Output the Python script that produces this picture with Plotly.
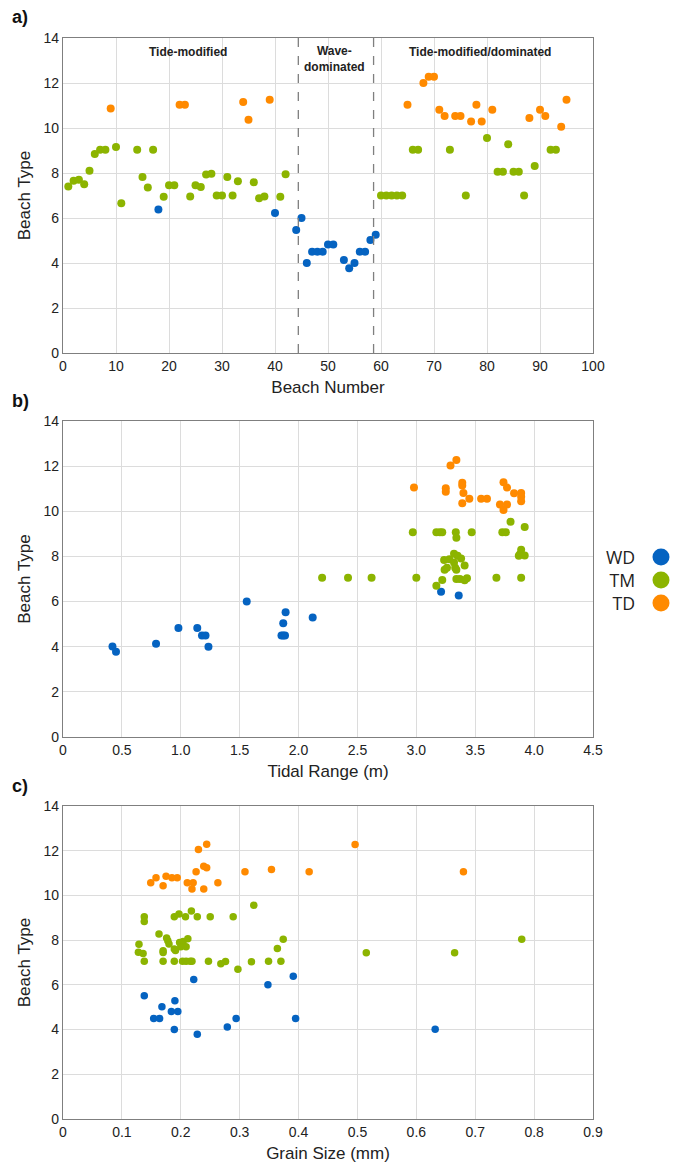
import plotly.graph_objects as go

# ---------------- data ----------------
# Panel a: beach number vs beach type
a_wd_beach = [18, 40, 44, 45, 46, 47, 48, 49, 50, 51, 53, 54, 55, 56, 57, 58, 59]
a_wd_type = [6.38, 6.22, 5.47, 6.0, 4.0, 4.5, 4.5, 4.5, 4.82, 4.82, 4.13, 3.77, 4.0, 4.5, 4.5, 5.02, 5.26]
a_tm_beach = [1, 2, 3, 4, 5, 6, 7, 8, 10, 11, 14, 15, 16, 17, 19, 20, 21, 24, 25, 26, 27, 28, 29, 30,
              31, 32, 33, 36, 37, 38, 41, 42, 60, 61, 62, 63, 64, 66, 67, 73, 76, 80, 82, 83, 84, 85,
              86, 87, 89, 92, 93]
a_tm_type = [7.4, 7.65, 7.7, 7.5, 8.1, 8.84, 9.03, 9.03, 9.16, 6.66, 9.03, 7.82, 7.35, 9.03, 6.94, 7.45,
             7.45, 6.96, 7.46, 7.38, 7.93, 7.97, 7.0, 7.0, 7.82, 7.0, 7.63, 7.59, 6.88, 6.95, 6.94, 7.94,
             7.0, 7.0, 7.0, 7.0, 7.0, 9.03, 9.03, 9.03, 7.0, 9.56, 8.06, 8.06, 9.28, 8.06, 8.06, 7.0,
             8.31, 9.03, 9.03]
a_td_beach = [9, 22, 23, 34, 35, 39, 65, 68, 69, 70, 71, 72, 74, 75, 77, 78, 79, 81, 88, 90, 91, 94, 95]
a_td_type = [10.87, 11.03, 11.03, 11.16, 10.37, 11.26, 11.03, 12.0, 12.28, 12.28, 10.81, 10.53, 10.53,
             10.53, 10.29, 11.03, 10.29, 10.81, 10.44, 10.81, 10.53, 10.06, 11.26]
a_dividers = [44.4, 58.6]

# Panel b: tidal range vs beach type
b_wd_tide = [0.42, 0.45, 0.79, 0.98, 1.14, 1.18, 1.21, 1.235, 1.56, 1.855, 1.87, 1.885, 1.87, 1.89,
             2.12, 3.21, 3.36]
b_wd_type = [4.01, 3.78, 4.13, 4.83, 4.83, 4.5, 4.5, 4.0, 6.0, 4.5, 4.5, 4.5, 5.04, 5.53, 5.29, 6.44, 6.27]
b_tm_tide = [2.20, 2.42, 2.62, 3.0, 2.97, 3.17, 3.20, 3.22, 3.335, 3.34, 3.47, 3.73, 3.76, 3.80, 3.92,
             3.89, 3.88, 3.92, 3.87, 3.32, 3.35, 3.236, 3.28, 3.32, 3.38, 3.41, 3.24, 3.26, 3.33, 3.34,
             3.22, 3.17, 3.34, 3.37, 3.41, 3.43, 3.68, 3.89]
b_tm_type = [7.05, 7.05, 7.05, 7.05, 9.07, 9.07, 9.07, 9.07, 9.07, 8.83, 9.07, 9.07, 9.07, 9.54, 9.3,
             8.3, 8.1, 8.04, 8.03, 8.12, 8.03, 7.84, 7.88, 7.73, 7.91, 7.6, 7.41, 7.5, 7.5, 7.41,
             6.96, 6.7, 7.0, 7.0, 6.95, 7.03, 7.05, 7.05]
b_td_tide = [2.98, 3.25, 3.25, 3.29, 3.34, 3.39, 3.39, 3.40, 3.45, 3.39, 3.55, 3.60, 3.74, 3.77, 3.83,
             3.89, 3.89, 3.89, 3.71, 3.77, 3.74]
b_td_type = [11.05, 10.87, 11.02, 12.03, 12.27, 11.26, 11.14, 10.81, 10.56, 10.36, 10.56, 10.56, 11.29,
             11.05, 10.8, 10.81, 10.64, 10.44, 10.3, 10.3, 10.06]

# Panel c: grain size vs beach type
c_wd_grain = [0.138, 0.154, 0.164, 0.168, 0.184, 0.190, 0.195, 0.189, 0.222, 0.228, 0.279, 0.294,
              0.348, 0.391, 0.395, 0.632]
c_wd_type = [5.51, 4.5, 4.5, 5.02, 4.81, 5.29, 4.81, 4.0, 6.24, 3.79, 4.12, 4.5, 6.0, 6.39, 4.5, 4.01]
c_tm_grain = [0.138, 0.138, 0.129, 0.128, 0.136, 0.138, 0.163, 0.176, 0.178, 0.180, 0.170, 0.170,
              0.170, 0.189, 0.197, 0.208, 0.218, 0.228, 0.250, 0.289, 0.324, 0.189, 0.191, 0.198,
              0.204, 0.200, 0.209, 0.212, 0.189, 0.203, 0.209, 0.216, 0.219, 0.247, 0.268, 0.276,
              0.297, 0.320, 0.349, 0.364, 0.370, 0.374, 0.515, 0.665, 0.779]
c_tm_type = [9.05, 8.83, 7.82, 7.46, 7.40, 7.06, 8.28, 8.10, 7.97, 7.83, 7.52, 7.45, 7.06, 9.05, 9.17,
             9.05, 9.30, 9.05, 9.05, 9.05, 9.56, 7.60, 7.54, 7.89, 7.94, 7.71, 7.71, 8.06, 7.06, 7.06,
             7.06, 7.06, 7.06, 7.06, 6.94, 7.05, 6.70, 7.03, 7.06, 7.63, 7.06, 8.04, 7.44, 7.44, 8.04]
c_td_grain = [0.149, 0.158, 0.170, 0.175, 0.185, 0.194, 0.211, 0.221, 0.219, 0.226, 0.230, 0.244,
              0.239, 0.244, 0.239, 0.263, 0.309, 0.354, 0.418, 0.496, 0.680]
c_td_type = [10.57, 10.79, 10.43, 10.86, 10.79, 10.79, 10.57, 10.57, 10.29, 11.06, 12.05, 12.29,
             11.30, 11.24, 10.29, 10.57, 11.06, 11.16, 11.06, 12.28, 11.06]

class_names = ["WD", "TM", "TD"]
class_colors = ["#0563C1", "#8CB400", "#FF8A00"]

# ---------------- figure ----------------
W, H = 675, 1165
ML, MR, MT, MB = 63, 82, 38, 46
PW, PH = W - ML - MR, H - MT - MB


def py(pix):  # pixel y -> paper y
    return (H - MB - pix) / PH


def px(pix):  # pixel x -> paper x
    return (pix - ML) / PW


fig = go.Figure()

panels = [
    ("x", "y", [(a_wd_beach, a_wd_type), (a_tm_beach, a_tm_type), (a_td_beach, a_td_type)], 8),
    ("x2", "y2", [(b_wd_tide, b_wd_type), (b_tm_tide, b_tm_type), (b_td_tide, b_td_type)], 8),
    ("x3", "y3", [(c_wd_grain, c_wd_type), (c_tm_grain, c_tm_type), (c_td_grain, c_td_type)], 7.5),
]
for xa, ya, series, msize in panels:
    for (xs, ys), name, col in zip(series, class_names, class_colors):
        fig.add_trace(go.Scatter(x=xs, y=ys, mode="markers", name=name, xaxis=xa, yaxis=ya,
                                 showlegend=False,
                                 marker=dict(color=col, size=msize, line=dict(width=0))))

font_family = "Liberation Sans, Arial, sans-serif"
axis_common = dict(showline=True, mirror=True, linecolor="#7F7F7F", linewidth=1.3,
                   showgrid=True, gridcolor="#DCDCDC", gridwidth=1, zeroline=False,
                   ticks="", automargin=False,
                   tickfont=dict(size=14, color="#222", family=font_family),
                   title_font=dict(size=17, color="#222", family=font_family))

yticks = [0, 2, 4, 6, 8, 10, 12, 14]
dom_a = [py(353), py(38)]
dom_b = [py(737), py(421)]
dom_c = [py(1119), py(806)]

fig.update_layout(
    width=W, height=H, margin=dict(l=ML, r=MR, t=MT, b=MB, autoexpand=False),
    plot_bgcolor="white", paper_bgcolor="white",
    font=dict(family=font_family, color="#222"),
    xaxis=dict(axis_common, domain=[0, 1], anchor="y", range=[0, 100], tickvals=list(range(0, 101, 10)),
               title=dict(text="Beach Number", standoff=8)),
    yaxis=dict(axis_common, domain=dom_a, anchor="x", range=[0, 14], tickvals=yticks,
               title=dict(text="Beach Type", standoff=8)),
    xaxis2=dict(axis_common, domain=[0, 1], anchor="y2", range=[0, 4.5],
                tickvals=[0, 0.5, 1, 1.5, 2, 2.5, 3, 3.5, 4, 4.5],
                ticktext=["0", "0.5", "1.0", "1.5", "2.0", "2.5", "3.0", "3.5", "4.0", "4.5"],
                title=dict(text="Tidal Range (m)", standoff=8)),
    yaxis2=dict(axis_common, domain=dom_b, anchor="x2", range=[0, 14], tickvals=yticks,
                title=dict(text="Beach Type", standoff=8)),
    xaxis3=dict(axis_common, domain=[0, 1], anchor="y3", range=[0, 0.9],
                tickvals=[0, 0.1, 0.2, 0.3, 0.4, 0.5, 0.6, 0.7, 0.8, 0.9],
                ticktext=["0", "0.1", "0.2", "0.3", "0.4", "0.5", "0.6", "0.7", "0.8", "0.9"],
                title=dict(text="Grain Size (mm)", standoff=8)),
    yaxis3=dict(axis_common, domain=dom_c, anchor="x3", range=[0, 14], tickvals=yticks,
                title=dict(text="Beach Type", standoff=8)),
)

# dashed dividers in panel a
for xv in a_dividers:
    fig.add_shape(type="line", xref="x", yref="y", x0=xv, x1=xv, y0=0, y1=14,
                  line=dict(color="#7F7F7F", width=1.3, dash="dash"))

# region labels in panel a
region_labels = [("Tide-modified", 23.5, 13.4), ("Wave-<br>dominated", 51.3, 13.05),
                 ("Tide-modified/dominated", 78.6, 13.4)]
for txt, xv, yv in region_labels:
    fig.add_annotation(x=xv, y=yv, xref="x", yref="y", text="<b>" + txt + "</b>", showarrow=False,
                       font=dict(size=12, color="#222", family=font_family), align="center")

# panel letters
for lab, ypix in [("a)", 17), ("b)", 401), ("c)", 786)]:
    fig.add_annotation(x=px(10), y=py(ypix), xref="paper", yref="paper", text="<b>" + lab + "</b>",
                       showarrow=False, xanchor="left", yanchor="middle",
                       font=dict(size=18, color="#111", family=font_family))

# legend (text followed by marker)
legend_y = [557, 580, 603]
fig.add_annotation(x=px(637), y=py(580), xref="paper", yref="paper", text="<br>".join(class_names),
                   showarrow=False, xanchor="right", yanchor="middle", align="right",
                   font=dict(size=17.7, color="#222", family="Open Sans, sans-serif"))
for col, ypix in zip(class_colors, legend_y):
    fig.add_shape(type="circle", xref="paper", yref="paper", xsizemode="pixel", ysizemode="pixel",
                  xanchor=px(661), yanchor=py(ypix), x0=-8.5, x1=8.5, y0=-8.5, y1=8.5,
                  fillcolor=col, line=dict(width=0))

fig.write_html("out.html", config={"displayModeBar": False},
               post_script="document.body.style.margin='0';document.body.style.overflow='hidden';")
